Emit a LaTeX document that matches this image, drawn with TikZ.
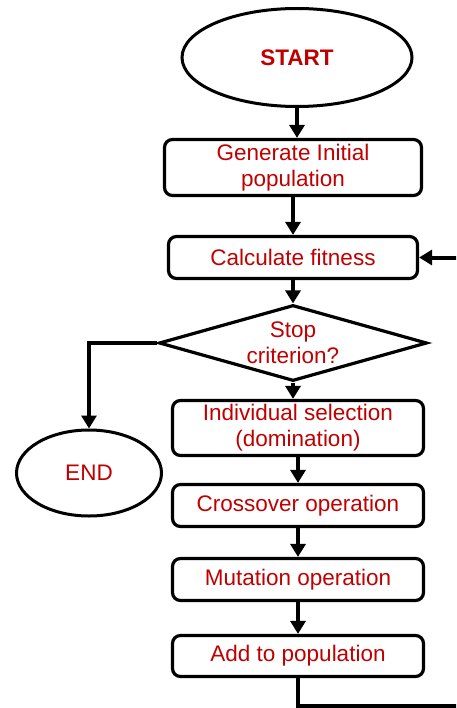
\documentclass[tikz,border=0pt]{standalone}
\usepackage{fontspec}
\setmainfont{Liberation Sans}
\usepackage{tikz}
\usetikzlibrary{arrows.meta,shapes.geometric,positioning}
\definecolor{txtred}{RGB}{192,0,0}

\begin{document}
\begin{tikzpicture}[x=1pt,y=-1pt,
  box/.style={draw,line width=3.2pt,rounded corners=8pt,inner sep=0pt,align=center,
              text=txtred,font=\fontsize{22.5}{26}\selectfont},
  term/.style={draw,ellipse,line width=3pt,inner sep=0pt,text=txtred,
               font=\fontsize{22.5}{26}\selectfont},
  arr/.style={line width=4pt,-{Triangle[length=13pt,width=15pt]}}]
 \useasboundingbox (0,0) rectangle (456,708);
 \clip (0,0) rectangle (456,708);
 % main column
 \node[term,minimum width=230pt,minimum height=98pt,font=\fontsize{22.5}{26}\selectfont\bfseries] (start) at (297,57.5) {START};
 \node[box,minimum width=257pt,minimum height=56pt] (gen) at (293,167.5) {Generate Initial\\population};
 \node[box,minimum width=249pt,minimum height=42pt] (calc) at (293,257.5) {Calculate fitness};
 \node[draw,diamond,line width=3.2pt,inner sep=0pt,aspect=3.4,minimum width=268pt,minimum height=76pt,
       align=center,text=txtred,font=\fontsize{22.5}{26}\selectfont] (stop) at (293,343) {Stop\\criterion?};
 \node[term,minimum width=145pt,minimum height=86pt] (end) at (89,473) {END};
 \node[box,minimum width=251pt,minimum height=55pt] (sel) at (298,428) {Individual selection\\(domination)};
 \node[box,minimum width=251pt,minimum height=42pt] (cross) at (298,505.5) {Crossover operation};
 \node[box,minimum width=251pt,minimum height=42pt] (mut) at (298,579.5) {Mutation operation};
 \node[box,minimum width=251pt,minimum height=41pt] (add) at (298,656) {Add to population};
 % connectors
 \draw[arr] (start.south) -- (start.south |- gen.north);
 \draw[arr] (gen) -- (calc);
 \draw[arr] (calc) -- (stop);
 \draw[arr] (stop.south) -- (stop.south |- sel.north);
 \draw[arr] (sel) -- (cross);
 \draw[arr] (cross) -- (mut);
 \draw[arr] (mut) -- (add);
 \draw[arr] (stop.west) -| (end.north);
 % loop back (runs past the right edge)
 \coordinate (loopbot) at (475,706);
 \coordinate (looptop) at (475,257.5);
 \draw[arr] (add.south) |- (loopbot) -- (looptop) -- (calc.east);
\end{tikzpicture}
\end{document}
